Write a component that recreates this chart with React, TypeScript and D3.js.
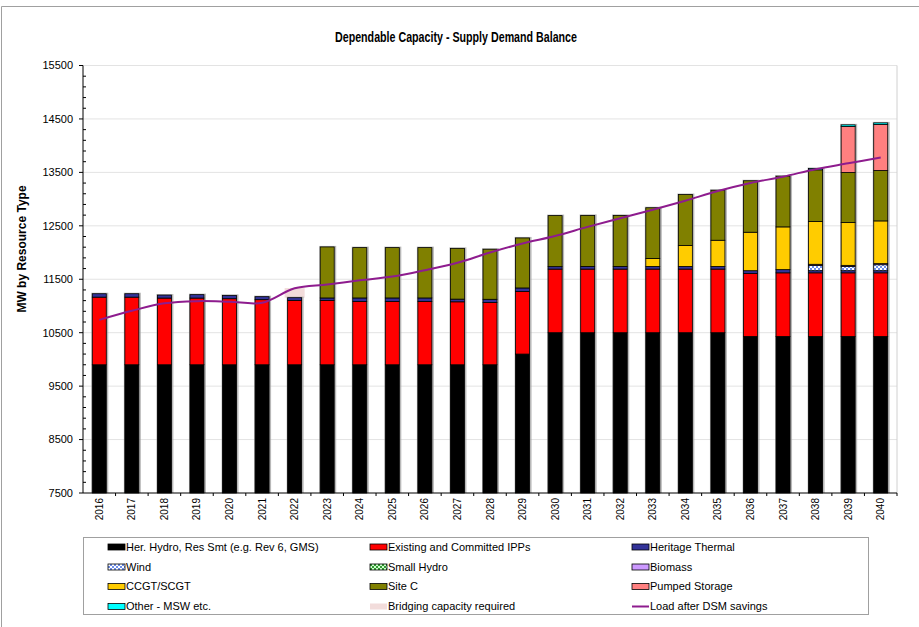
import * as d3 from 'd3';
import React from 'react';

// categories
const years = [
   '2016', '2017', '2018', '2019', '2020', '2021', '2022', '2023', '2024',
   '2025', '2026', '2027', '2028', '2029', '2030', '2031', '2032', '2033',
   '2034', '2035', '2036', '2037', '2038', '2039', '2040',
];

// MW by resource type
const herHydro = [9900, 9900, 9900, 9900, 9900, 9900, 9900, 9900, 9900, 9900, 9900, 9900, 9900, 10100, 10500, 10500, 10500, 10500, 10500, 10500, 10430, 10430, 10430, 10430, 10430];
const existingIPPs = [1265, 1265, 1248, 1248, 1236, 1218, 1205, 1205, 1186, 1186, 1186, 1178, 1165, 1173, 1190, 1190, 1190, 1190, 1190, 1190, 1180, 1190, 1190, 1190, 1190];
const heritageThermal = [64, 64, 56, 64, 62, 56, 50, 45, 64, 64, 64, 50, 60, 64, 46, 50, 50, 50, 50, 50, 50, 60, 40, 40, 40];
const wind = [0, 0, 0, 0, 0, 0, 0, 0, 0, 0, 0, 0, 0, 0, 0, 0, 0, 0, 0, 0, 0, 0, 100, 80, 112];
const smallHydro = [0, 0, 0, 0, 0, 0, 0, 0, 0, 0, 0, 0, 0, 0, 0, 0, 0, 0, 0, 0, 0, 0, 0, 0, 0];
const biomass = [0, 0, 0, 0, 0, 0, 0, 0, 0, 0, 0, 0, 0, 0, 0, 0, 0, 0, 0, 0, 0, 0, 20, 20, 20];
const ccgt = [0, 0, 0, 0, 0, 0, 0, 0, 0, 0, 0, 0, 0, 0, 0, 0, 0, 150, 390, 490, 720, 800, 800, 800, 800];
const siteC = [0, 0, 0, 0, 0, 0, 0, 955, 942, 942, 942, 950, 937, 936, 955, 955, 955, 948, 955, 936, 963, 949, 968, 937, 942];
const pumpedStorage = [0, 0, 0, 0, 0, 0, 0, 0, 0, 0, 0, 0, 0, 0, 0, 0, 0, 0, 0, 0, 0, 0, 0, 862, 862];
const otherMSW = [0, 0, 0, 0, 0, 0, 0, 0, 0, 0, 0, 0, 0, 0, 0, 0, 0, 0, 0, 0, 0, 0, 25, 30, 30];
const bridging = [0, 0, 0, 0, 0, 0, 180, 0, 0, 0, 0, 0, 0, 0, 0, 0, 0, 0, 0, 0, 0, 0, 0, 0, 0];
const loadAfterDSM = [10740, 10910, 11050, 11090, 11080, 11060, 11330, 11400, 11480, 11550, 11670, 11810, 12000, 12170, 12310, 12480, 12640, 12800, 12970, 13150, 13300, 13420, 13560, 13670, 13780];

const yTicks = [7500, 8500, 9500, 10500, 11500, 12500, 13500, 14500, 15500];

const seriesDefs = [
   { key: 'herHydro', label: 'Her. Hydro, Res Smt (e.g. Rev 6, GMS)', values: herHydro, fill: '#000000' },
   { key: 'existingIPPs', label: 'Existing and Committed IPPs', values: existingIPPs, fill: '#FF0000' },
   { key: 'heritageThermal', label: 'Heritage Thermal', values: heritageThermal, fill: '#333399' },
   { key: 'wind', label: 'Wind', values: wind, fill: 'url(#windPat)' },
   { key: 'smallHydro', label: 'Small Hydro', values: smallHydro, fill: 'url(#hydroPat)' },
   { key: 'biomass', label: 'Biomass', values: biomass, fill: '#CC99FF' },
   { key: 'ccgt', label: 'CCGT/SCGT', values: ccgt, fill: '#FFCC00' },
   { key: 'siteC', label: 'Site C', values: siteC, fill: '#808000' },
   { key: 'pumpedStorage', label: 'Pumped Storage', values: pumpedStorage, fill: '#FF8080' },
   { key: 'otherMSW', label: 'Other - MSW etc.', values: otherMSW, fill: '#00FFFF' },
   { key: 'bridging', label: 'Bridging capacity required', values: bridging, fill: '#F2DCDB' },
];

const legendOrder = [
   'herHydro', 'existingIPPs', 'heritageThermal',
   'wind', 'smallHydro', 'biomass',
   'ccgt', 'siteC', 'pumpedStorage',
   'otherMSW', 'bridging', 'load',
];

const W = 919;
const H = 627;
const margin = { top: 65.5, right: 22, bottom: 134, left: 83 };
const FONT = 'Arial, "Liberation Sans", Helvetica, sans-serif';

const App = () => {
   const plotRight = W - margin.right;
   const plotBottom = H - margin.bottom;

   const x = d3.scaleBand<string>().domain(years).range([margin.left, plotRight]).padding(0);
   // clamp so the stack base (0) sits on the 7500 axis
   const y = d3.scaleLinear().domain([7500, 15500]).range([plotBottom, margin.top]).clamp(true);
   const barW = x.bandwidth() * 0.43;

   const table = years.map((yr, i) => {
      const row: Record<string, number | string> = { year: yr };
      seriesDefs.forEach((s) => {
         row[s.key] = s.values[i];
      });
      return row;
   });

   const stacked = d3
      .stack<Record<string, number | string>>()
      .keys(seriesDefs.map((s) => s.key))
      .value((d, k) => d[k] as number)(table);

   const line = d3
      .line<number>()
      .x((_, i) => (x(years[i]) ?? 0) + x.bandwidth() / 2)
      .y((v) => y(v))
      .curve(d3.curveCatmullRom);

   const minorTicks = d3.range(7500, 15501, 200).filter((v) => (v - 7500) % 1000 !== 0);
   const realTop = (i: number) => {
      // top of the supply bars, bridging excluded
      const last = stacked[stacked.length - 2];
      return last[i][1];
   };

   const legendCols = [108, 370, 632];
   const legendRows = [547, 567, 586.5, 606.5];

   return (
      <div style={{ position: 'absolute', left: 0, top: 0 }}>
         <svg width={W} height={H} style={{ display: 'block', background: '#fff' }}>
            <defs>
               <pattern id="windPat" width={4} height={4} patternUnits="userSpaceOnUse">
                  <rect width={4} height={4} fill="#6F8FEA" />
                  <rect width={2} height={2} fill="#ffffff" />
                  <rect x={2} y={2} width={2} height={2} fill="#ffffff" />
               </pattern>
               <pattern id="hydroPat" width={4} height={4} patternUnits="userSpaceOnUse">
                  <rect width={4} height={4} fill="#339933" />
                  <rect width={2} height={2} fill="#ccffcc" />
                  <rect x={2} y={2} width={2} height={2} fill="#ccffcc" />
               </pattern>
            </defs>

            {/* chart area border */}
            <path d={`M1.5,${H} V6.5 H${W}`} fill="none" stroke="#a0a0a0" strokeWidth={1} />

            <text
               x={456}
               y={42}
               textAnchor="middle"
               fontFamily={FONT}
               fontWeight="bold"
               fontSize={14.5}
               textLength={242}
               lengthAdjust="spacingAndGlyphs"
            >
               Dependable Capacity - Supply Demand Balance
            </text>

            {/* gridlines */}
            {yTicks.slice(1).map((t) => (
               <line key={t} x1={margin.left} x2={plotRight} y1={y(t)} y2={y(t)} stroke="#e3e3e3" strokeWidth={1} />
            ))}
            <line x1={plotRight} x2={plotRight} y1={margin.top} y2={plotBottom} stroke="#d0d0d0" strokeWidth={1} />

            {/* bars: bridging behind, without outline */}
            {years.map((yr, i) => {
               const bx = (x(yr) ?? 0) + (x.bandwidth() - barW) / 2;
               const b = stacked[stacked.length - 1][i];
               if (b[1] - b[0] <= 0) return null;
               return (
                  <rect key={'br' + yr} x={bx - 3} y={y(b[1])} width={barW + 6} height={y(b[0]) - y(b[1])} fill="#F2DCDB" />
               );
            })}
            {years.map((yr, i) => {
               const bx = (x(yr) ?? 0) + (x.bandwidth() - barW) / 2;
               const top = realTop(i);
               return (
                  <rect
                     key={'sh' + yr}
                     x={bx - 1}
                     y={y(top) - 1}
                     width={barW + 3}
                     height={plotBottom - y(top) + 1}
                     fill="#9a9a9a"
                     opacity={0.7}
                  />
               );
            })}
            {stacked.slice(0, stacked.length - 1).map((layer, li) => (
               <g key={layer.key}>
                  {layer.map((d, i) => {
                     if (d[1] - d[0] <= 0) return null;
                     const bx = (x(years[i]) ?? 0) + (x.bandwidth() - barW) / 2;
                     return (
                        <rect
                           key={years[i]}
                           x={bx}
                           y={y(d[1])}
                           width={barW}
                           height={y(d[0]) - y(d[1])}
                           fill={seriesDefs[li].fill}
                           stroke="#000"
                           strokeWidth={0.8}
                        />
                     );
                  })}
               </g>
            ))}

            {/* load line */}
            <path d={line(loadAfterDSM) ?? ''} fill="none" stroke="#8E1C8E" strokeWidth={2} />

            {/* y axis */}
            <line x1={margin.left} x2={margin.left} y1={margin.top} y2={plotBottom} stroke="#000" />
            {yTicks.map((t) => (
               <g key={t}>
                  <line x1={margin.left - 4} x2={margin.left} y1={y(t)} y2={y(t)} stroke="#000" />
                  <text x={73} y={y(t)} dy="0.35em" textAnchor="end" fontFamily={FONT} fontSize={11}>
                     {t}
                  </text>
               </g>
            ))}
            {minorTicks.map((t) => (
               <line key={t} x1={margin.left} x2={margin.left + 3} y1={y(t)} y2={y(t)} stroke="#000" />
            ))}
            <text
               transform={`translate(26,249) rotate(-90)`}
               textAnchor="middle"
               fontFamily={FONT}
               fontWeight="bold"
               fontSize={12}
            >
               MW by Resource Type
            </text>

            {/* x axis */}
            <line x1={margin.left} x2={plotRight} y1={plotBottom} y2={plotBottom} stroke="#000" />
            {years.map((yr, i) => (
               <g key={yr}>
                  {i > 0 && (
                     <line x1={x(yr)} x2={x(yr)} y1={plotBottom} y2={plotBottom + 3} stroke="#000" />
                  )}
                  <text
                     transform={`translate(${(x(yr) ?? 0) + x.bandwidth() / 2},498) rotate(-90)`}
                     textAnchor="end"
                     dy="0.35em"
                     fontFamily={FONT}
                     fontSize={10}
                  >
                     {yr}
                  </text>
               </g>
            ))}
            <line x1={plotRight} x2={plotRight} y1={plotBottom} y2={plotBottom + 3} stroke="#000" />

            {/* legend */}
            <rect x={83.5} y={537.5} width={785} height={77} fill="#fff" stroke="#a0a0a0" />
            {legendOrder.map((k, idx) => {
               const cx = legendCols[idx % 3];
               const cy = legendRows[Math.floor(idx / 3)];
               if (k === 'load') {
                  return (
                     <g key={k}>
                        <line x1={cx} x2={cx + 17} y1={cy} y2={cy} stroke="#8E1C8E" strokeWidth={2} />
                        <text x={cx + 18} y={cy} dy="0.35em" fontFamily={FONT} fontSize={11}>
                           Load after DSM savings
                        </text>
                     </g>
                  );
               }
               const s = seriesDefs.find((d) => d.key === k)!;
               return (
                  <g key={k}>
                     <rect
                        x={cx}
                        y={cy - 3}
                        width={17}
                        height={6}
                        fill={s.fill}
                        stroke={k === 'bridging' ? 'none' : '#000'}
                        strokeWidth={0.8}
                     />
                     <text x={cx + 18} y={cy} dy="0.35em" fontFamily={FONT} fontSize={11}>
                        {s.label}
                     </text>
                  </g>
               );
            })}
         </svg>
      </div>
   );
};

export default App;
